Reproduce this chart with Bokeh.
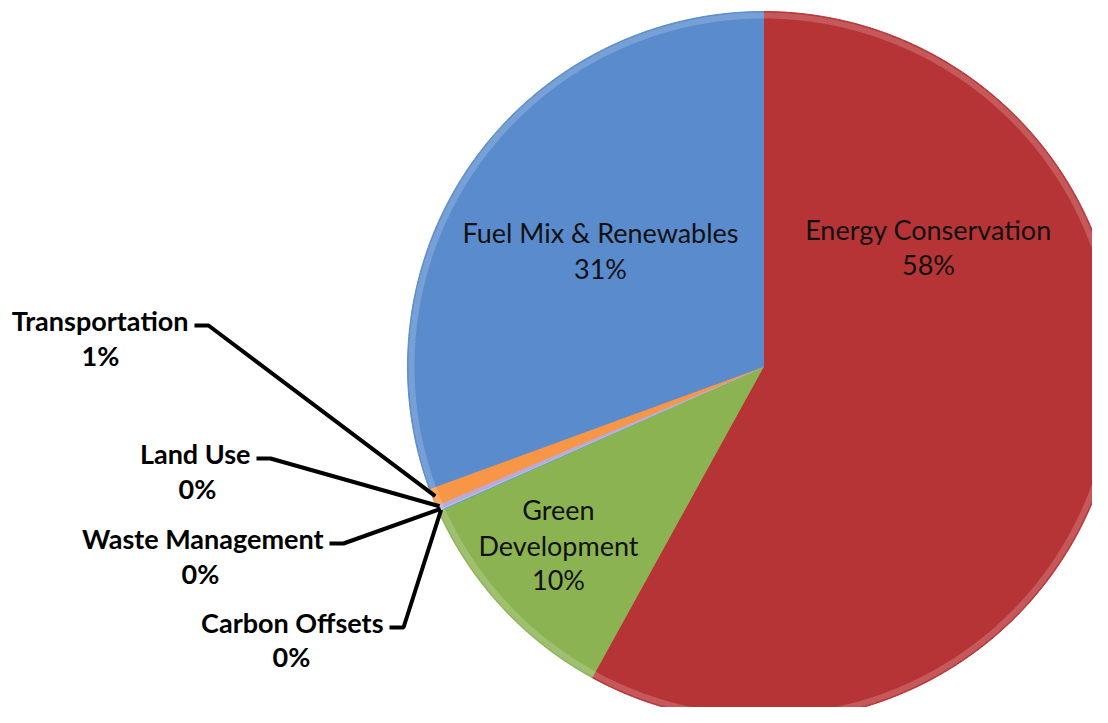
import numpy as np
from bokeh.plotting import figure
from bokeh.models import Range1d, ColumnDataSource
from bokeh.core.properties import value
from bokeh.embed import file_html
from bokeh.resources import INLINE

# ---- data (clockwise from 12 o'clock) ----
categories = ["Energy Conservation", "Green Development", "Carbon Offsets",
              "Waste Management", "Land Use", "Transportation", "Fuel Mix & Renewables"]
shares = [58.0, 10.3, 0.05, 0.05, 0.2, 0.8, 30.6]
pct_labels = ["58%", "10%", "0%", "0%", "0%", "1%", "31%"]
colors = ["#B73436", "#8CB352", "#4BACC6", "#C9BEDF", "#BCA9D6", "#F79646", "#5A8CCD"]

W, H = 1092, 707
p = figure(width=W, height=H, output_backend="svg", toolbar_location=None,
           x_range=Range1d(0, W), y_range=Range1d(H, 0),
           min_border=0, outline_line_color=None)
p.axis.visible = False
p.grid.visible = False
p.background_fill_color = "white"

cx, cy, rx, ry = 763, 366, 356, 355
total = sum(shares)
cum = np.concatenate([[0], np.cumsum(shares)]) / total * 2 * np.pi
xs, ys, mids, axs, ays = [], [], [], [], []
for i in range(len(shares)):
    t = np.linspace(cum[i], cum[i + 1], max(4, int((cum[i + 1] - cum[i]) * 120)))
    xs.append([cx] + list(cx + rx * np.sin(t)) + [cx])
    ys.append([cy] + list(cy - ry * np.cos(t)) + [cy])
    axs.append(list(cx + (rx - 4) * np.sin(t)))
    ays.append(list(cy - (ry - 4) * np.cos(t)))
    mids.append((cum[i] + cum[i + 1]) / 2)
src = ColumnDataSource(dict(xs=xs, ys=ys, color=colors, name=categories))
p.patches("xs", "ys", source=src, fill_color="color", line_color="color", line_width=1)
# soft bevel highlight along the rim
p.multi_line(axs, ays, line_color="white", line_alpha=0.18, line_width=6)

# inside labels
font_in = value("Lato")
inside = [
    (0, 928, ["Energy Conservation", pct_labels[0]], [229, 264]),
    (6, 600, ["Fuel Mix & Renewables", pct_labels[6]], [232, 268]),
    (1, 558, ["Green", "Development", pct_labels[1]], [509, 545, 579]),
]
for _, x, lines, yy in inside:
    p.text(x=[x] * len(lines), y=yy, text=lines, text_font=font_in,
           text_font_size="27px", text_align="center", text_baseline="middle",
           text_color="#111111")

# outside labels with leader lines
outside = [
    (5, 188, 320, 100, 355),
    (4, 250, 453, 197, 488),
    (3, 323, 538, 200, 573),
    (2, 383, 622, 291, 656),
]
for idx, xe, yl, xp, yp in outside:
    p.text(x=[xe], y=[yl], text=[categories[idx]], text_font=value("Lato"),
           text_font_style="bold", text_font_size="27px", text_align="right",
           text_baseline="middle", text_color="black")
    p.text(x=[xp], y=[yp], text=[pct_labels[idx]], text_font=value("Lato"),
           text_font_style="bold", text_font_size="27px", text_align="center",
           text_baseline="middle", text_color="black")
    m = mids[idx]
    ex = cx + (rx - 3) * np.sin(m)
    ey = cy - (ry - 3) * np.cos(m)
    p.line([xe + 6, xe + 20, ex], [yl + 5, yl + 5, ey], line_color="black",
           line_width=4)

open("out.html", "w").write(file_html(p, INLINE))
